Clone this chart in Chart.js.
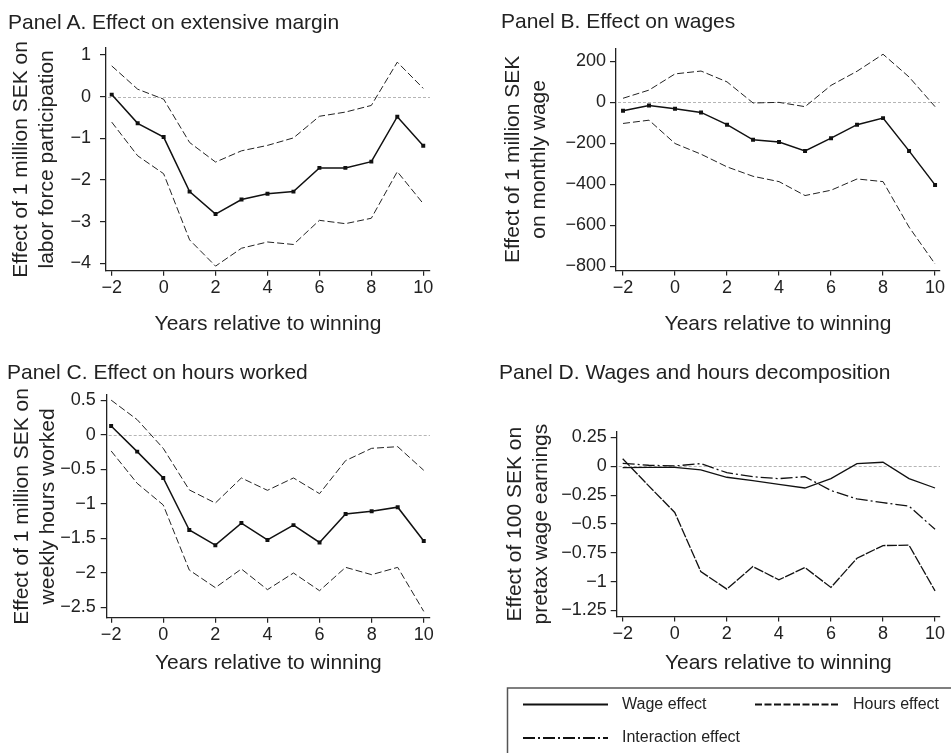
<!DOCTYPE html>
<html><head><meta charset="utf-8">
<script src="https://cdn.jsdelivr.net/npm/chart.js@4"></script>
<style>
html,body{margin:0;padding:0;background:#fff;}
body{width:951px;height:753px;position:relative;overflow:hidden;font-family:"Liberation Sans",Arial,sans-serif;color:#222;}
canvas{position:absolute;}
.pt{position:absolute;font-size:21px;line-height:21px;white-space:nowrap;color:#222;z-index:2;}
</style></head><body>
<div class="pt" style="left:8px;top:10.5px">Panel A. Effect on extensive margin</div>
<div class="pt" style="left:501px;top:9.5px">Panel B. Effect on wages</div>
<div class="pt" style="left:7px;top:361px">Panel C. Effect on hours worked</div>
<div class="pt" style="left:499px;top:361px">Panel D. Wages and hours decomposition</div>
<canvas id="cA" width="460" height="345" style="left:0px;top:0px"></canvas>
<canvas id="cB" width="481" height="345" style="left:470px;top:0px"></canvas>
<canvas id="cC" width="460" height="393" style="left:0px;top:360px"></canvas>
<canvas id="cD" width="481" height="393" style="left:470px;top:360px"></canvas>
<script>
// ---------- data ----------
const years = [-2,-1,0,1,2,3,4,5,6,7,8,9,10];
const xTickValues = [-2,0,2,4,6,8,10];
const xTitle = "Years relative to winning";

const aEstimate = [0.05,-0.64,-0.97,-2.28,-2.82,-2.47,-2.33,-2.28,-1.71,-1.71,-1.56,-0.48,-1.18];
const aUpper    = [0.74,0.18,-0.06,-1.10,-1.57,-1.30,-1.17,-0.99,-0.47,-0.37,-0.21,0.83,0.20];
const aLower    = [-0.61,-1.42,-1.85,-3.44,-4.07,-3.64,-3.49,-3.55,-2.97,-3.05,-2.92,-1.80,-2.57];
const aYTicks   = [1,0,-1,-2,-3,-4];

const bEstimate = [-41,-15,-31,-49,-109,-183,-194,-237,-175,-109,-77,-237,-403];
const bUpper    = [20,60,139,153,100,-3,0,-21,83,152,235,124,-21];
const bLower    = [-103,-87,-201,-253,-315,-361,-387,-455,-429,-374,-387,-609,-789];
const bYTicks   = [200,0,-200,-400,-600,-800];

const cEstimate = [0.125,-0.246,-0.627,-1.38,-1.60,-1.28,-1.525,-1.31,-1.56,-1.15,-1.11,-1.05,-1.54];
const cUpper    = [0.50,0.217,-0.198,-0.80,-0.99,-0.627,-0.806,-0.627,-0.854,-0.376,-0.198,-0.174,-0.516];
const cLower    = [-0.236,-0.705,-1.018,-1.96,-2.215,-1.945,-2.244,-2.003,-2.259,-1.921,-2.027,-1.921,-2.558];
const cYTicks   = [0.5,0,-0.5,-1,-1.5,-2,-2.5];

const dWage        = [-0.012,-0.01,-0.01,-0.03,-0.095,-0.124,-0.156,-0.188,-0.107,0.023,0.035,-0.107,-0.188];
const dHours       = [0.066,-0.17,-0.40,-0.912,-1.065,-0.869,-0.984,-0.878,-1.05,-0.797,-0.687,-0.684,-1.08];
const dInteraction = [0.026,0.009,0.003,0.023,-0.055,-0.09,-0.107,-0.09,-0.21,-0.283,-0.315,-0.346,-0.546];
const dYTicks      = [0.25,0,-0.25,-0.5,-0.75,-1,-1.25];
const dLabels      = ["Wage effect","Hours effect","Interaction effect"];

// ---------- helpers ----------
const FONT = '"Liberation Sans", Arial, sans-serif';
const INK = '#222';
const pts = (arr) => years.map((x,i) => ({x, y: arr[i]}));
const fmt = (v) => (v < 0 ? '\u2212' : '') + String(Math.abs(v));

const zeroLine = {
  id: 'zeroLine',
  beforeDatasetsDraw(chart) {
    const {ctx, chartArea: a, scales: {y}} = chart;
    const py = Math.round(y.getPixelForValue(0)) + 0.5;
    ctx.save();
    ctx.strokeStyle = '#b5b5b5';
    ctx.lineWidth = 1;
    ctx.setLineDash([3,2]);
    ctx.beginPath(); ctx.moveTo(a.left + 2, py); ctx.lineTo(a.right, py); ctx.stroke();
    ctx.restore();
  }
};

function estimateSets(est, up, lo) {
  const ci = (arr) => ({data: pts(arr), borderColor: INK, borderWidth: 1, borderDash: [7,3], pointRadius: 0, fill: false, tension: 0});
  return [
    ci(up), ci(lo),
    {data: pts(est), borderColor: '#111', borderWidth: 1.5, pointStyle: 'rect', pointRadius: 2.8,
     pointBackgroundColor: '#111', pointBorderColor: '#111', pointBorderWidth: 0, fill: false, tension: 0}
  ];
}

function makePanel(p) {
  const canvas = document.getElementById(p.id);
  const boxL = p.box.left, boxT = p.box.top, boxW = canvas.width, boxH = canvas.height;
  const yW = p.area.left - boxL;
  const titleLH = 21 * 1.2;
  const xH = p.xTitleCenter + titleLH / 2 - p.area.bottom;
  const padTop = p.area.top - boxT;
  const padRight = boxL + boxW - p.area.right;
  const padBottom = boxT + boxH - (p.area.bottom + xH);
  return new Chart(canvas, {
    type: 'line',
    data: {datasets: p.datasets},
    plugins: [zeroLine].concat(p.plugins || []),
    options: {
      responsive: false, animation: false, devicePixelRatio: 1,
      layout: {padding: {left: 0, top: padTop, right: padRight, bottom: padBottom}},
      plugins: {legend: {display: false}, tooltip: {enabled: false}, title: {display: false}},
      scales: {
        x: {
          type: 'linear', min: p.xMin, max: p.xMax,
          afterBuildTicks: (s) => { s.ticks = xTickValues.map(v => ({value: v})); },
          afterFit: (s) => { s.height = xH; },
          grid: {display: true, drawOnChartArea: false, drawTicks: true, tickLength: 5, color: INK, tickColor: INK, lineWidth: 1.2},
          border: {display: true, color: INK, width: 1.3},
          ticks: {autoSkip: false, maxRotation: 0, minRotation: 0, padding: 2, color: INK,
                  font: {family: FONT, size: 18}, callback: (v) => fmt(v)},
          title: {display: true, text: xTitle, color: INK, padding: {top: 0, bottom: 0},
                  font: {family: FONT, size: 21, lineHeight: 1.2}}
        },
        y: {
          type: 'linear', min: p.yMin, max: p.yMax,
          afterBuildTicks: (s) => { s.ticks = p.yTicks.map(v => ({value: v})); },
          afterFit: (s) => { s.width = yW; },
          grid: {display: true, drawOnChartArea: false, drawTicks: true, tickLength: 6, color: INK, tickColor: INK, lineWidth: 1.2},
          border: {display: true, color: INK, width: 1.3},
          ticks: {autoSkip: false, padding: p.yTickPad, color: INK, font: {family: FONT, size: 18}, callback: (v) => fmt(v)},
          title: {display: true, text: p.yTitle, color: INK, padding: {top: p.yTitlePad, bottom: 0},
                  font: {family: FONT, size: 21, lineHeight: 1.25}}
        }
      }
    }
  });
}

// ---------- legend for panel D ----------
const legendD = {
  id: 'legendD',
  afterDraw(chart) {
    const {ctx} = chart;
    const ox = 470, oy = 360;
    const items = [
      {x1: 523, x2: 608, tx: 622, y: 704.5},
      {x1: 755, x2: 840, tx: 853, y: 704.5},
      {x1: 523, x2: 608, tx: 622, y: 738}
    ];
    ctx.save();
    ctx.strokeStyle = '#555'; ctx.lineWidth = 1.5; ctx.setLineDash([]);
    ctx.beginPath();
    ctx.moveTo(507.5 - ox, 760 - oy); ctx.lineTo(507.5 - ox, 688 - oy); ctx.lineTo(960 - ox, 688 - oy);
    ctx.stroke();
    ctx.font = '16px ' + FONT; ctx.fillStyle = INK; ctx.textBaseline = 'middle'; ctx.textAlign = 'left';
    chart.data.datasets.forEach((ds, i) => {
      const it = items[i];
      ctx.strokeStyle = '#111'; ctx.lineWidth = 2; ctx.setLineDash(ds.legendDash || []);
      ctx.beginPath(); ctx.moveTo(it.x1 - ox, it.y - oy); ctx.lineTo(it.x2 - ox, it.y - oy); ctx.stroke();
      ctx.fillText(ds.label, it.tx - ox, it.y - oy);
    });
    ctx.restore();
  }
};

// ---------- panels ----------
makePanel({
  id: 'cA', box: {left: 0, top: 0}, area: {left: 106, top: 48, right: 430, bottom: 270.7},
  xMin: -2.22, xMax: 10.26, yMin: -4.18, yMax: 1.17, yTicks: aYTicks, yTickPad: 9,
  yTitle: ["Effect of 1 million SEK on", "labor force participation"], yTitlePad: 8,
  xTitleCenter: 324.2, datasets: estimateSets(aEstimate, aUpper, aLower)
});
makePanel({
  id: 'cB', box: {left: 470, top: 0}, area: {left: 616, top: 48.3, right: 940, bottom: 270.5},
  xMin: -2.27, xMax: 10.19, yMin: -821, yMax: 264, yTicks: bYTicks, yTickPad: 4,
  yTitle: ["Effect of 1 million SEK", "on monthly wage"], yTitlePad: 30,
  xTitleCenter: 324.2, datasets: estimateSets(bEstimate, bUpper, bLower)
});
makePanel({
  id: 'cC', box: {left: 0, top: 360}, area: {left: 106.7, top: 395, right: 430, bottom: 617.7},
  xMin: -2.17, xMax: 10.24, yMin: -2.65, yMax: 0.574, yTicks: cYTicks, yTickPad: 5,
  yTitle: ["Effect of 1 million SEK on", "weekly hours worked"], yTitlePad: 9,
  xTitleCenter: 663.3, datasets: estimateSets(cEstimate, cUpper, cLower)
});
makePanel({
  id: 'cD', box: {left: 470, top: 360}, area: {left: 616.7, top: 431.7, right: 940, bottom: 616.5},
  xMin: -2.23, xMax: 10.19, yMin: -1.302, yMax: 0.30, yTicks: dYTicks, yTickPad: 4,
  yTitle: ["Effect of 100 SEK on", "pretax wage earnings"], yTitlePad: 32,
  xTitleCenter: 663.3,
  datasets: [
    {label: dLabels[0], data: pts(dWage), borderColor: '#111', borderWidth: 1.3, pointRadius: 0, fill: false, tension: 0, legendDash: []},
    {label: dLabels[1], data: pts(dHours), borderColor: '#111', borderWidth: 1.3, borderDash: [10,1.5], pointRadius: 0, fill: false, tension: 0, legendDash: [7,2.5]},
    {label: dLabels[2], data: pts(dInteraction), borderColor: '#111', borderWidth: 1.3, borderDash: [12,3,2,3], pointRadius: 0, fill: false, tension: 0, legendDash: [12,3,2,3]}
  ],
  plugins: [legendD]
});
</script>
</body></html>
